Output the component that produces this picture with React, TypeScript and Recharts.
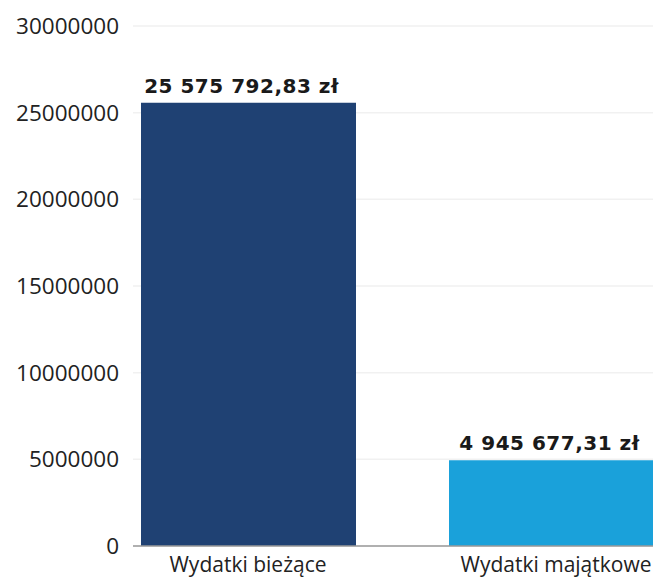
import { BarChart, Bar, XAxis, YAxis, CartesianGrid, Cell, LabelList } from "recharts";

const categories = ["Wydatki bieżące", "Wydatki majątkowe"];
const values = [25575792.83, 4945677.31];
const valueLabels = ["25 575 792,83 zł", "4 945 677,31 zł"];
const yTicks = [0, 5000000, 10000000, 15000000, 20000000, 25000000, 30000000];

const COLORS = ["#1f4173", "#1aa1da"];

const data = categories.map((name, i) => ({ name, value: values[i], label: valueLabels[i] }));

const ValueLabel = (props: any) => {
  const { x, y, width, value } = props;
  return (
    <text
      x={x + width / 2 - 7}
      y={y - 10}
      textAnchor="middle"
      fill="#1a1a1a"
      fontSize={20}
      fontWeight={900}
      letterSpacing={0.5}
      fontFamily="DejaVu Sans, sans-serif"
    >
      {value}
    </text>
  );
};

export default function App() {
  return (
    <div
      style={{
        position: "absolute",
        left: 0,
        top: 0,
        width: 653,
        height: 577,
        overflow: "hidden",
        background: "#fff",
      }}
    >
      <BarChart
        width={720}
        height={577}
        data={data}
        margin={{ top: 26, right: 10, bottom: 0, left: 0 }}
        barSize={215}
      >
        <CartesianGrid vertical={false} stroke="#f1f1f1" strokeWidth={1.5} />
        <YAxis
          width={133}
          domain={[0, 30000000]}
          ticks={yTicks}
          axisLine={false}
          tickLine={false}
          tickSize={0}
          tickMargin={14}
          interval={0}
          tick={{ fill: "#222", fontSize: 22.5, fontFamily: "Open Sans, sans-serif" }}
        />
        <XAxis
          dataKey="name"
          height={31}
          padding={{ left: -39, right: 0 }}
          axisLine={{ stroke: "#9a9a9a", strokeWidth: 1.5 }}
          tickLine={false}
          tickSize={0}
          tickMargin={11}
          tick={{ fill: "#222", fontSize: 21, fontFamily: "Open Sans, sans-serif" }}
        />
        <Bar dataKey="value" isAnimationActive={false}>
          {data.map((_, index) => (
            <Cell key={index} fill={COLORS[index]} />
          ))}
          <LabelList dataKey="label" content={ValueLabel} />
        </Bar>
      </BarChart>
    </div>
  );
}
